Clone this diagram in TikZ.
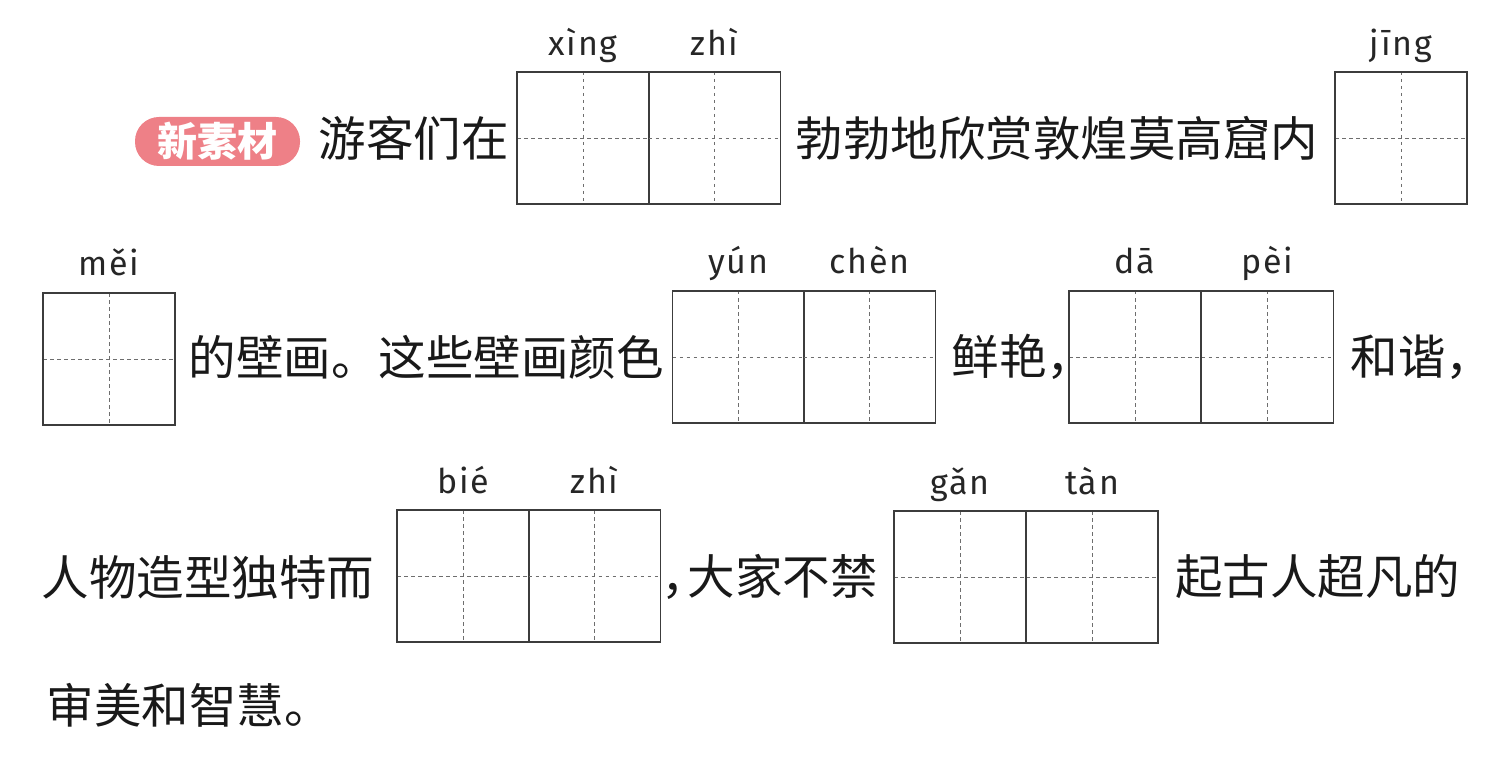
\documentclass[tikz,border=0pt]{standalone}
\usepackage{fontspec}
\newfontfamily\cjk{Noto Sans CJK SC}
\newfontfamily\py[LetterSpace=5]{Fira Sans}
\definecolor{badgecol}{RGB}{238,128,135}
\definecolor{linecol}{RGB}{60,60,60}
\definecolor{dashcol}{RGB}{110,110,110}
\tikzset{
  cell/.style={draw=linecol, line width=1.4pt, minimum width=132pt, minimum height=132pt,
    inner sep=0pt, outer sep=0pt,
    path picture={\draw[dashcol, line width=0.9pt, dash pattern=on 3.5pt off 3.5pt]
      (path picture bounding box.north) -- (path picture bounding box.south)
      (path picture bounding box.west) -- (path picture bounding box.east);}},
  txt/.style={anchor=west, inner sep=0pt, font=\cjk\fontsize{47.5pt}{50pt}\selectfont, text=black!90},
  pin/.style={anchor=base, inner sep=0pt, font=\py\fontsize{34pt}{36pt}\selectfont, text=black!85},
  badgebox/.style={fill=badgecol, rounded corners=24pt, minimum width=165pt, minimum height=49pt,
    inner sep=0pt, text=white, font=\cjk\bfseries\fontsize{40pt}{42pt}\selectfont}
}
\begin{document}
\begin{tikzpicture}[x=1pt,y=-1pt]
\useasboundingbox (0,0) rectangle (1496,759);
% row 1
\node[badgebox] (tag) at (217.5,141.5) {新素材};
\node[txt] (t1) at (318.5,138) {游客们在};
\node[cell] (c1) at (583,138) {};
\node[cell] (c2) at (714.5,138) {};
\node[pin] (p1) at (583,56) {xìng};
\node[pin] (p2) at (714.5,56) {zhì};
\node[txt] (t2) at (795.5,138) {勃勃地欣赏敦煌莫高窟内};
\node[cell] (c3) at (1401,138) {};
\node[pin] (p3) at (1401,56) {jīng};
% row 2
\node[cell] (c4) at (109,359) {};
\node[pin] (p4) at (109,276) {měi};
\node[txt] (t3) at (188.5,357) {的壁画。这些壁画颜色};
\node[cell] (c5) at (738.5,357) {};
\node[cell] (c6) at (869.5,357) {};
\node[pin] (p5) at (738.5,274) {yún};
\node[pin] (p6) at (869.5,274) {chèn};
\node[txt] (t4) at (951.5,357) {鲜艳\makebox[0.4em][l]{，}};
\node[cell] (c7) at (1135,357) {};
\node[cell] (c8) at (1267.5,357) {};
\node[pin] (p7) at (1135,274) {dā};
\node[pin] (p8) at (1267.5,274) {pèi};
\node[txt] (t5) at (1350.5,357) {和谐\makebox[0.4em][l]{，}};
% row 3
\node[txt] (t6) at (41.5,577) {人物造型独特而};
\node[cell] (c9) at (463,576) {};
\node[cell] (c10) at (594.5,576) {};
\node[pin] (p9) at (463,493) {bié};
\node[pin] (p10) at (594.5,493) {zhì};
\node[txt] (t7) at (661,577) {，\kern-0.44em 大家不禁};
\node[cell] (c11) at (960,577) {};
\node[cell] (c12) at (1092,577) {};
\node[pin] (p11) at (960,494) {gǎn};
\node[pin] (p12) at (1092,494) {tàn};
\node[txt] (t9) at (1175,577) {起古人超凡的};
% row 4
\node[txt] (t10) at (46.5,705) {审美和智慧。};
\end{tikzpicture}
\end{document}
